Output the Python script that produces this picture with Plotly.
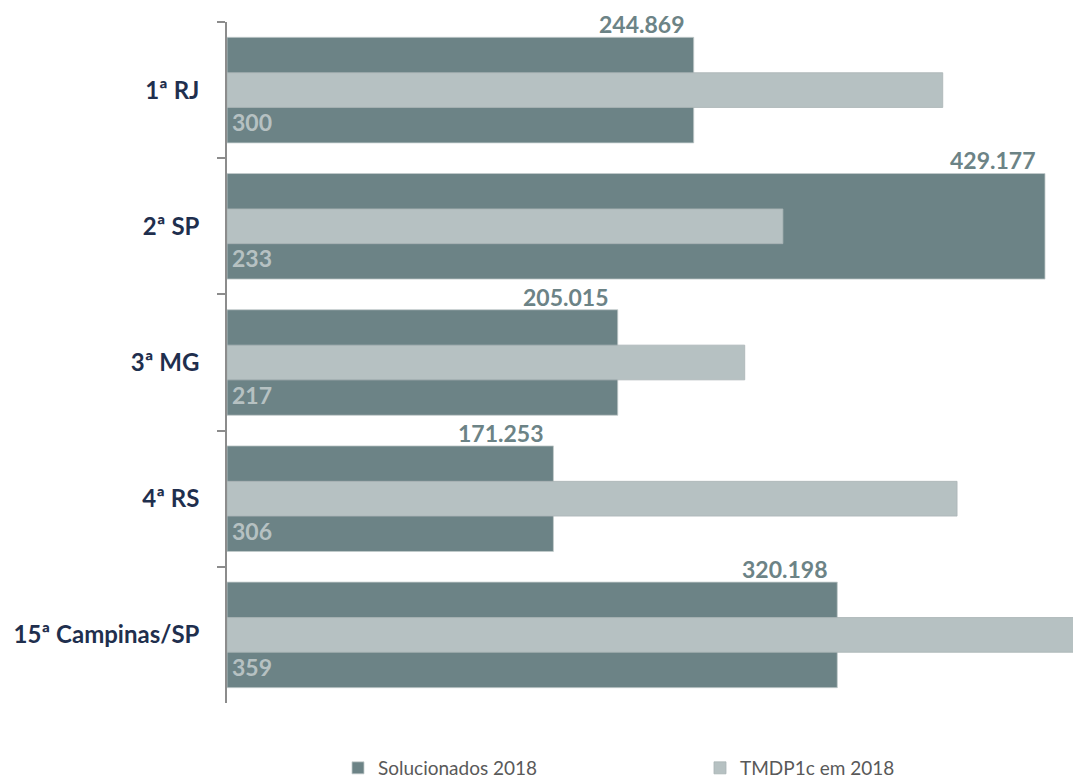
import plotly.graph_objects as go

# Data
regioes = ["1ª RJ", "2ª SP", "3ª MG", "4ª RS", "15ª Campinas/SP"]
solucionados = [244869, 429177, 205015, 171253, 320198]
tmdp1c = [300, 233, 217, 306, 359]

COR_ESCURA = "#6c8386"
COR_CLARA = "#b6c1c2"
FONTE = "Lato"


def fmt_milhar(v):
    return f"{v:,}".replace(",", ".")


fig = go.Figure()

fig.add_trace(go.Bar(
    name="Solucionados 2018",
    y=regioes, x=solucionados, orientation="h",
    width=0.775,
    marker=dict(color=COR_ESCURA, line=dict(color="#c3cbcb", width=0.8)),
    xaxis="x", yaxis="y",
    hoverinfo="x+y",
))

fig.add_trace(go.Bar(
    name="TMDP1c em 2018",
    y=regioes, x=tmdp1c, orientation="h",
    width=0.255,
    marker=dict(color=COR_CLARA, line=dict(color="#a9b4b5", width=0.8)),
    xaxis="x2", yaxis="y",
    hoverinfo="x+y",
))

anotacoes = []
for reg, sol, tm in zip(regioes, solucionados, tmdp1c):
    # value of Solucionados, above the end of the wide bar
    anotacoes.append(dict(
        x=sol, y=reg, xref="x", yref="y",
        text=f"<b>{fmt_milhar(sol)}</b>",
        showarrow=False, xanchor="right", yanchor="middle",
        xshift=-7, yshift=66,
        font=dict(family=FONTE, size=23, color=COR_ESCURA),
    ))
    # value of TMDP1c, at the lower-left corner of the wide bar
    anotacoes.append(dict(
        x=0, y=reg, xref="x", yref="y",
        text=f"<b>{tm}</b>",
        showarrow=False, xanchor="left", yanchor="middle",
        xshift=3, yshift=-32,
        font=dict(family=FONTE, size=23, color=COR_CLARA),
    ))

fig.update_layout(
    width=1073, height=780,
    margin=dict(l=227, r=0, t=22, b=77, autoexpand=False),
    paper_bgcolor="white", plot_bgcolor="white",
    barmode="overlay",
    font=dict(family=FONTE),
    showlegend=True,
    legend=dict(
        orientation="h",
        xref="container", yref="container",
        x=0.315, xanchor="left",
        y=0.0154, yanchor="middle",
        entrywidth=317, entrywidthmode="pixels",
        font=dict(family=FONTE, size=19, color="#595959"),
        traceorder="normal",
    ),
    xaxis=dict(
        range=[0, 443866],
        showgrid=False, zeroline=False, showline=False,
        showticklabels=False, ticks="",
    ),
    xaxis2=dict(
        range=[0, 354.6],
        overlaying="x", side="top",
        showgrid=False, zeroline=False, showline=False,
        showticklabels=False, ticks="",
    ),
    yaxis=dict(
        type="category",
        categoryorder="array", categoryarray=regioes,
        range=[len(regioes) - 0.5, -0.5],
        showgrid=False, zeroline=False,
        showline=True, linecolor="#8c8c8c", linewidth=1.5,
        ticks="outside", ticklen=8, tickcolor="#8c8c8c", tickwidth=1.5,
        tickson="boundaries",
        ticklabelstandoff=21,
        tickfont=dict(family=FONTE, size=24, color="#1f2f4e", weight="bold"),
    ),
    annotations=anotacoes,
)

fig.write_html("out.html")
